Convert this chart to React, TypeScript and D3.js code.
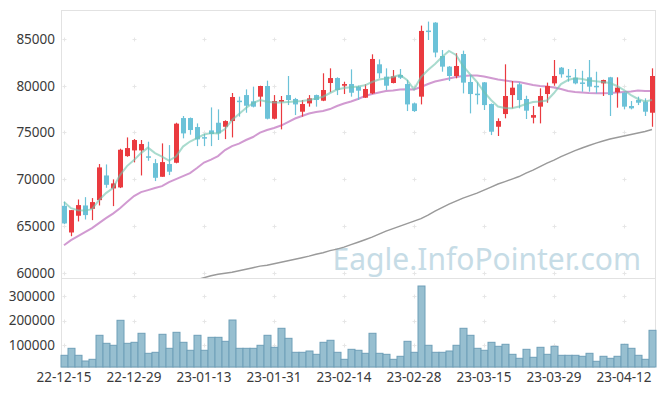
import React, { useEffect, useRef } from "react";
import * as d3 from "d3";

// trading days, 2022-12-15 .. 2023-04-18
const dates = [
  "22-12-15", "22-12-16", "22-12-19", "22-12-20", "22-12-21", "22-12-22", "22-12-23", "22-12-26", "22-12-27", "22-12-28", "22-12-29",
  "23-01-02", "23-01-03", "23-01-04", "23-01-05", "23-01-06", "23-01-09", "23-01-10", "23-01-11", "23-01-12", "23-01-13",
  "23-01-16", "23-01-17", "23-01-18", "23-01-19", "23-01-20", "23-01-25", "23-01-26", "23-01-27", "23-01-30", "23-01-31",
  "23-02-01", "23-02-02", "23-02-03", "23-02-06", "23-02-07", "23-02-08", "23-02-09", "23-02-10", "23-02-13", "23-02-14",
  "23-02-15", "23-02-16", "23-02-17", "23-02-20", "23-02-21", "23-02-22", "23-02-23", "23-02-24", "23-02-27", "23-02-28",
  "23-03-02", "23-03-03", "23-03-06", "23-03-07", "23-03-08", "23-03-09", "23-03-10", "23-03-13", "23-03-14", "23-03-15",
  "23-03-16", "23-03-17", "23-03-20", "23-03-21", "23-03-22", "23-03-23", "23-03-24", "23-03-27", "23-03-28", "23-03-29",
  "23-03-30", "23-03-31", "23-04-03", "23-04-04", "23-04-05", "23-04-06", "23-04-07", "23-04-10", "23-04-11", "23-04-12",
  "23-04-13", "23-04-14", "23-04-17", "23-04-18",
];

const opens = [
  67150, 64300, 66090, 67190, 66830, 67760, 70400, 69010, 69120, 72470,
  73080, 73080, 72450, 71720, 70260, 71620, 71760, 76540, 76540, 75580,
  74500, 75220, 76040, 75610, 76220, 78400, 79000, 78330, 78830, 79970,
  76470, 78290, 79000, 78580, 77220, 78110, 79000, 78400, 80290, 80820,
  80000, 80180, 79900, 78720, 79180, 82290, 80970, 80290, 81150, 80180,
  78110, 78830, 85900, 86750, 83180, 82040, 81040, 83390, 80400, 79150,
  80360, 78040, 75610, 76970, 79000, 80150, 78580, 76580, 77760, 79110,
  80250, 81930, 81060, 80860, 80350, 80900, 79990, 80250, 80900, 79290,
  79250, 77830, 78470, 78290, 77110,
];
const highs = [
  67600, 66700, 67830, 68080, 67980, 71620, 71580, 69980, 73260, 74470,
  74300, 74190, 74010, 72150, 73830, 73650, 76040, 76760, 76600, 75970,
  74830, 77680, 77470, 76300, 79220, 78830, 79610, 79900, 80000, 80540,
  79000, 78900, 81040, 78700, 78470, 79000, 79050, 81330, 81860, 80900,
  80430, 81750, 80000, 80150, 83360, 82820, 81860, 81680, 81790, 80610,
  78200, 86430, 86860, 86800, 83820, 82100, 83470, 83750, 81150, 80360,
  80400, 78100, 76510, 82290, 80500, 80360, 78930, 77830, 79720, 80330,
  82750, 82000, 81790, 81790, 81600, 82750, 81500, 80650, 80950, 80900,
  79300, 78360, 78830, 78650, 81860,
];
const lows = [
  65200, 63900, 65480, 65690, 65620, 67190, 69080, 67120, 69050, 72400,
  71800, 70400, 71970, 69800, 70260, 70440, 71700, 74370, 74760, 73540,
  73540, 73540, 74190, 74290, 74470, 76690, 77110, 77680, 77760, 76400,
  76400, 75330, 77930, 76860, 76690, 77760, 77760, 78350, 79290, 79000,
  79110, 78830, 78470, 78700, 79100, 80790, 79540, 80250, 80720, 77290,
  77200, 78000, 84890, 83040, 81500, 80500, 80790, 79180, 77040, 78000,
  77400, 74720, 74620, 76510, 77580, 77580, 76440, 75970, 75970, 78180,
  80000, 80860, 80430, 80150, 79360, 79360, 79180, 78900, 76760, 77650,
  77470, 77470, 77930, 76760, 75610,
];
const closes = [
  65270, 66690, 67230, 66160, 67550, 71260, 69400, 69550, 73150, 73330,
  74190, 73760, 72400, 70150, 71830, 70800, 75940, 74900, 75260, 74260,
  74450, 74830, 74900, 76220, 78790, 78360, 77860, 77760, 79970, 76470,
  78360, 78470, 78470, 78000, 78040, 78650, 78470, 79540, 80820, 79540,
  80180, 79250, 79470, 79650, 82860, 81330, 80000, 81000, 80860, 78000,
  77290, 85860, 85850, 83550, 82040, 81040, 82110, 80330, 79110, 79100,
  77930, 75080, 76220, 78900, 79790, 78470, 77330, 76860, 78900, 79970,
  81040, 81220, 81030, 80250, 80300, 79900, 79950, 80610, 79000, 79790,
  77760, 77580, 78180, 77220, 81040,
];
const volumes = [
  57950, 86500, 57950, 34700, 41600, 139600, 106900, 98800, 200800, 106900,
  111000, 147800, 66100, 70200, 143700, 86500, 151800, 111000, 78400, 139600,
  78400, 131400, 131400, 115100, 202000, 86500, 86500, 86500, 98800, 139600,
  90600, 168200, 127300, 70200, 70200, 75500, 62000, 111000, 119200, 70200,
  41600, 82400, 78400, 66100, 147800, 66100, 62000, 41600, 53900, 115100,
  70200, 340800, 98800, 70200, 70200, 75500, 98800, 168200, 139600, 86500,
  78400, 111000, 94700, 102900, 62000, 45700, 82400, 49800, 90600, 62000,
  94700, 57950, 57950, 57950, 53900, 66100, 33500, 53900, 45700, 53900,
  102900, 86500, 57950, 41600, 160000,
];
const ma5 = [
  67550, 66900, 66690, 66640, 66800, 67760, 68510, 69050, 70440, 71400,
  72040, 72790, 73380, 72790, 72420, 71990, 72420, 73490, 74030, 74400,
  74780, 74940, 74900, 75360, 76330, 76970, 77610, 78150, 78470, 78290,
  78200, 78200, 78250, 78310, 78360, 78470, 78630, 78820, 79220, 79590,
  79750, 79830, 79910, 80040, 80400, 80660, 80770, 80930, 81150, 80610,
  79610, 80930, 81680, 82320, 83070, 83720, 83290, 82110, 81250, 80400,
  79330, 78470, 77770, 77610, 77580, 77770, 78040, 78250, 78310, 78420,
  79220, 80180, 80610, 80790, 80720, 80560, 80470, 80400, 80290, 79970,
  79540, 79000, 78580, 78310, 78470,
];
const ma20 = [
  62940, 63480, 63910, 64340, 64760, 65300, 65830, 66320, 66900, 67550,
  68190, 68620, 68830, 69050, 69260, 69690, 70010, 70330, 70650, 71190,
  71780, 72100, 72470, 73120, 73540, 73810, 74190, 74510, 74990, 75260,
  75470, 75740, 76110, 76490, 76760, 77020, 77180, 77290, 77500, 77830,
  78090, 78310, 78580, 78900, 79110, 79270, 79430, 79490, 79590, 79610,
  79590, 79860, 80180, 80450, 80610, 80770, 80930, 81040, 81090, 81090,
  80990, 80820, 80660, 80560, 80450, 80400, 80240, 80080, 79970, 79910,
  79810, 79650, 79430, 79330, 79270, 79220, 79190, 79190, 79220, 79270,
  79330, 79380, 79490, 79430, 79430,
];
const ma60: (number | null)[] = [
  null, null, null, null, null, null, null, null, null, null,
  null, null, null, null, null, null, null, null, null, 59250,
  59460, 59680, 59840, 59950, 60050, 60210, 60370, 60530, 60700, 60800,
  60960, 61120, 61280, 61440, 61600, 61770, 61980, 62140, 62360, 62520,
  62730, 63000, 63260, 63530, 63800, 64120, 64440, 64710, 64980, 65250,
  65510, 65780, 66160, 66580, 66960, 67330, 67650, 67980, 68240, 68510,
  68830, 69150, 69480, 69740, 70010, 70280, 70650, 70970, 71350, 71720,
  72040, 72420, 72740, 73060, 73330, 73600, 73860, 74080, 74290, 74450,
  74610, 74780, 74940, 75100, 75310,
];

const priceTicks = [60000, 65000, 70000, 75000, 80000, 85000];
const volumeTicks = [100000, 200000, 300000];

const W = 665;
const H = 396;

export default function App() {
  const ref = useRef<SVGSVGElement>(null);

  useEffect(() => {
    const svg = d3.select(ref.current);
    svg.selectAll("*").remove();

    const left = 61, right = 655, top = 10, mid = 278, bottom = 367;
    const idx = d3.range(dates.length);

    const x = d3.scaleBand<number>().domain(idx).range([60.5, 655.5]).padding(0);
    const cx = (i: number) => (x(i) as number) + x.bandwidth() / 2;
    const y = d3.scaleLinear().domain([59430, 88100]).range([mid, top]);
    const yv = d3.scaleLinear().domain([10200, 373500]).range([bottom, mid]);

    const font = "'Noto Sans', 'DejaVu Sans', sans-serif";
    const gridColor = "#e2e2e2";

    svg.append("defs").append("clipPath").attr("id", "pclip")
      .append("rect").attr("x", left).attr("y", top)
      .attr("width", right - left).attr("height", mid - top);

    // watermark
    svg.append("text")
      .attr("x", 641).attr("y", 270)
      .attr("text-anchor", "end")
      .attr("font-family", font)
      .attr("font-size", 30)
      .attr("fill", "#c6dce6")
      .text("Eagle.InfoPointer.com");

    // grid crosses
    const xTickIdx = idx.filter((i) => i % 10 === 0);
    const crossPts: [number, number][] = [];
    xTickIdx.forEach((i) => {
      priceTicks.forEach((p) => crossPts.push([cx(i), y(p)]));
      volumeTicks.forEach((v) => crossPts.push([cx(i), yv(v)]));
    });
    const cross = svg.append("g").attr("stroke", "#e6e6e6").attr("stroke-width", 1);
    crossPts.forEach(([px, py]) => {
      const a = Math.round(px) + 0.5, b = Math.round(py) + 0.5;
      cross.append("line").attr("x1", a - 2).attr("x2", a + 2).attr("y1", b).attr("y2", b);
      cross.append("line").attr("x1", a).attr("x2", a).attr("y1", b - 2).attr("y2", b + 2);
    });

    // frame
    const frame = svg.append("g").attr("stroke", gridColor).attr("fill", "none");
    frame.append("line").attr("x1", left + 0.5).attr("x2", left + 0.5).attr("y1", top).attr("y2", bottom);
    frame.append("line").attr("x1", right + 0.5).attr("x2", right + 0.5).attr("y1", top).attr("y2", bottom);
    frame.append("line").attr("x1", left).attr("x2", right).attr("y1", top + 0.5).attr("y2", top + 0.5);
    frame.append("line").attr("x1", left).attr("x2", right).attr("y1", mid + 0.5).attr("y2", mid + 0.5);
    frame.append("line").attr("x1", left).attr("x2", right).attr("y1", bottom + 0.5).attr("y2", bottom + 0.5);

    // volume bars
    svg.append("g").selectAll("rect").data(idx).join("rect")
      .attr("x", (i) => (x(i) as number) + 0.5)
      .attr("width", x.bandwidth())
      .attr("y", (i) => yv(volumes[i]))
      .attr("height", (i) => bottom - yv(volumes[i]))
      .attr("fill", "#97bfd0")
      .attr("stroke", "#6f9fb8")
      .attr("stroke-width", 1);

    const plot = svg.append("g").attr("clip-path", "url(#pclip)");

    // moving averages
    const line = d3.line<number | null>()
      .defined((d) => d != null)
      .x((_, i) => cx(i))
      .y((d) => y(d as number));
    plot.append("path").attr("d", line(ma60)).attr("fill", "none")
      .attr("stroke", "#9a9a9a").attr("stroke-width", 1.5);
    plot.append("path").attr("d", line(ma20)).attr("fill", "none")
      .attr("stroke", "#cc8fcc").attr("stroke-width", 2).attr("stroke-opacity", 0.9);

    // candles
    const up = "#ea3a3f", down = "#6cc2d8";
    const candles = plot.append("g").selectAll("g").data(idx).join("g")
      .attr("fill", (i) => (closes[i] >= opens[i] ? up : down))
      .attr("stroke", (i) => (closes[i] >= opens[i] ? up : down));
    candles.append("line")
      .attr("x1", (i) => Math.round(cx(i)) + 0.5).attr("x2", (i) => Math.round(cx(i)) + 0.5)
      .attr("y1", (i) => y(highs[i])).attr("y2", (i) => y(lows[i]))
      .attr("stroke-width", 1.2);
    candles.append("rect")
      .attr("x", (i) => Math.round(cx(i)) - 2)
      .attr("width", 5)
      .attr("y", (i) => y(Math.max(opens[i], closes[i])))
      .attr("height", (i) => Math.max(1.5, Math.abs(y(opens[i]) - y(closes[i]))))
      .attr("stroke", "none");

    plot.append("path").attr("d", line(ma5)).attr("fill", "none")
      .attr("stroke", "#6fc3ae").attr("stroke-width", 2).attr("stroke-opacity", 0.6);

    // y labels
    const lab = svg.append("g").attr("font-family", font).attr("font-size", 13.5)
      .attr("fill", "#3a3a3a").attr("text-anchor", "end");
    priceTicks.forEach((p) => {
      lab.append("text").attr("x", 55).attr("y", y(p)).attr("dy", "0.36em").text(String(p));
    });
    volumeTicks.forEach((v) => {
      lab.append("text").attr("x", 55).attr("y", yv(v)).attr("dy", "0.36em").text(String(v));
    });

    // x labels
    const xl = svg.append("g").attr("font-family", font).attr("font-size", 13.5)
      .attr("fill", "#3a3a3a").attr("text-anchor", "middle");
    xTickIdx.forEach((i) => {
      xl.append("text").attr("x", cx(i)).attr("y", 382).text(dates[i]);
    });
  }, []);

  return (
    <svg
      ref={ref}
      width={W}
      height={H}
      style={{ position: "absolute", left: 0, top: 0, background: "#fff" }}
    />
  );
}
